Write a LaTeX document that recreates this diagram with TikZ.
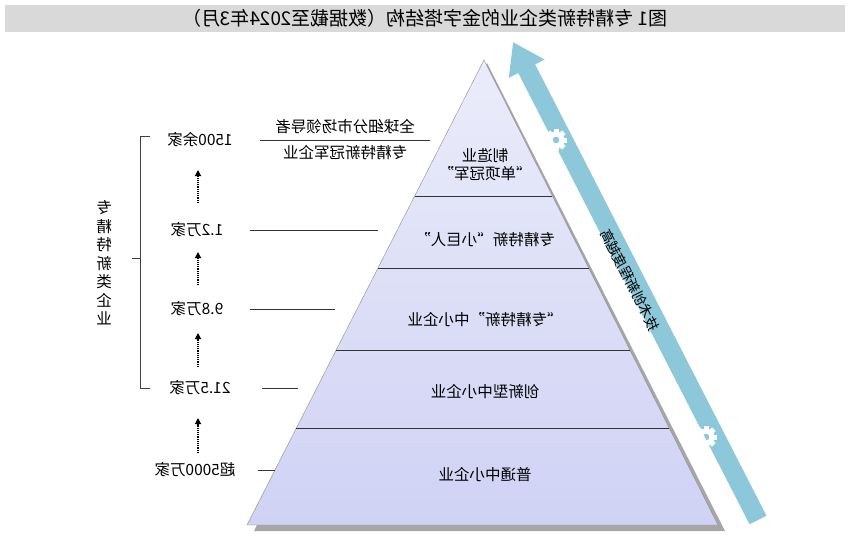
\documentclass[tikz,border=0pt]{standalone}
\usepackage{fontspec}
\setmainfont{Noto Sans CJK SC}
\usetikzlibrary{calc,arrows.meta}
\definecolor{arrowblue}{HTML}{8CC8D9}
\definecolor{pyrtop}{HTML}{EBECFA}
\definecolor{pyrbot}{HTML}{CFD2F4}
\tikzset{
  lab/.style={font=\fontsize{15.5}{18}\selectfont, inner sep=1pt},
  sep/.style={line width=0.8pt, black!80},
  dots/.style={densely dotted, line width=1.2pt, -{Triangle[length=6pt,width=6pt]}},
}
\newcommand{\gearicon}[1]{%
  \foreach \a in {0,45,...,315}{\fill[white,rotate around={\a:(#1)}] ($(#1)+(-2.5pt,6pt)$) rectangle ($(#1)+(2.5pt,11pt)$);}
  \fill[white,even odd rule] (#1) circle (8.5pt) (#1) circle (3.5pt);}
\begin{document}
\begin{tikzpicture}[x=1pt,y=1pt]
\useasboundingbox (0,0) rectangle (850,-544);
\begin{scope}[shift={(850,0)},xscale=-1,transform shape]
% title
\fill[black!15] (5,-5) rectangle (845,-32);
\node[font=\fontsize{19}{21}\selectfont] (title) at (425,-18.5) {图1\ 专精特新类企业的金字塔结构（数据截至2024年3月）};
% pyramid
\coordinate (A) at (366,-60);
\coordinate (BL) at (132,-525);
\coordinate (BR) at (603,-525);
\fill[black!35] ($(A)+(-3,-3)$) -- ($(BL)+(-7,-6)$) -- ($(BR)+(-7,-6)$) -- cycle;
\shade[top color=pyrtop,bottom color=pyrbot,draw=black!45] (A) -- (BL) -- (BR) -- cycle;
\foreach \t/\n in {0.2925/a,0.4473/b,0.6237/c,0.7914/d}{
  \draw[sep] ($(A)!\t!(BL)$) coordinate (L\n) -- ($(A)!\t!(BR)$) coordinate (R\n);}
\node[lab,align=center] (l1) at (365,-165) {制造业\\“单项冠军”};
\node[lab] (l2) at (365,-240) {专精特新“小巨人”};
\node[lab] (l3) at (365,-320) {“专精特新”中小企业};
\node[lab] (l4) at (365,-392) {创新型中小企业};
\node[lab] (l5) at (365,-475) {普通中小企业};
% side lines
\coordinate (s1a) at (420,-140); \coordinate (s1b) at (590,-140);
\draw[sep] (s1a) -- (s1b);
\node[lab] (g1) at (505,-127) {全球细分市场领导者};
\node[lab] (g2) at (505,-153) {专精特新冠军企业};
\coordinate (s2a) at (472,-230); \coordinate (s2b) at (600,-230); \draw[sep] (s2a)--(s2b);
\coordinate (s3a) at (515,-309); \coordinate (s3b) at (600,-309); \draw[sep] (s3a)--(s3b);
\coordinate (s4a) at (552,-388); \coordinate (s4b) at (588,-388); \draw[sep] (s4a)--(s4b);
\node[lab] (c1) at (650,-140) {1500余家};
\node[lab] (c2) at (653,-230) {1.2万家};
\node[lab] (c3) at (653,-309) {9.8万家};
\node[lab] (c4) at (650,-388) {21.5万家};
\node[lab] (c5) at (655,-470) {超5000万家};
\coordinate (s5a) at (575,-470); \coordinate (s5b) at (592,-470); \draw[sep] (s5a)--(s5b);
% dotted arrows
\foreach \ya/\yb/\n in {203/170/1,285/252/2,367/333/3,453/418/4}{
  \coordinate (da\n) at (652,-\ya); \coordinate (db\n) at (652,-\yb);
  \draw[dots] (da\n) -- (db\n);}
% bracket
\coordinate (k1) at (700,-136); \coordinate (k2) at (710,-136);
\coordinate (k3) at (710,-388); \coordinate (k4) at (700,-388);
\draw[line width=0.8pt,black!75] (k1) -- (k2) -- (k3) -- (k4);
\coordinate (km) at (710,-258); \coordinate (kn) at (718,-258);
\draw[line width=0.8pt,black!75] (km) -- (kn);
\node[lab,align=center,font=\fontsize{15.5}{18.5}\selectfont] (vt) at (746,-263) {专\\精\\特\\新\\类\\企\\业};
% blue arrow
\coordinate (t0) at (92,-520); \coordinate (t1) at (337,-42);
\draw[arrowblue,line width=19pt,-{Triangle[length=30pt,width=38pt]}] (t0) -- (t1);
\node[lab,rotate=62.9,font=\fontsize{14}{16}\selectfont] (at) at (220,-280) {技术创新程度越高};
\coordinate (gA) at (294,-140); \coordinate (gB) at (144,-437);
\gearicon{gA}
\gearicon{gB}
\end{scope}
\end{tikzpicture}
\end{document}
